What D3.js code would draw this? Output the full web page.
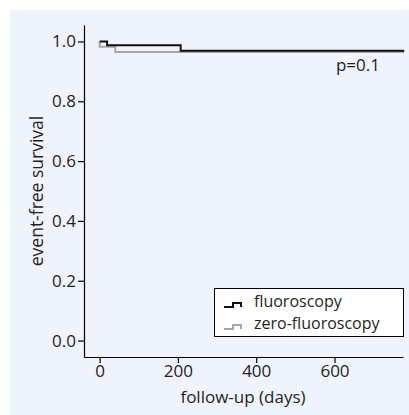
<!DOCTYPE html>
<html lang="en">
  <head>
    <meta charset="utf-8">
    <title>Event-free survival</title>
    <script src="https://cdn.jsdelivr.net/npm/d3@7"></script>
    <style>
      body { margin: 0; background: #fff; }
      text { font-family: 'Open Sans', 'Noto Sans', sans-serif; fill: #231f20; }
    </style>
  </head>
  <body>
    <div id="chart"></div>
    <script type="text/javascript">
      // Kaplan-Meier step curves
      const fluoroDays = [0, 19, 207, 778];
      const fluoroSurv = [1.0, 0.987, 0.969, 0.969];
      const zeroDays = [0, 0, 40, 778];
      const zeroSurv = [1.0, 0.982, 0.965, 0.965];

      const xTicks = [0, 200, 400, 600];
      const yTicks = [0, 0.2, 0.4, 0.6, 0.8, 1.0];
      const seriesNames = ['fluoroscopy', 'zero-fluoroscopy'];
      const seriesColors = ['#111111', '#a6a6a6'];
      const pLabel = 'p=0.1';

      let width = 409, height = 415;
      let svg = d3.select('#chart').append('svg')
        .attr('width', width)
        .attr('height', height)

      svg.append('rect')
        .attr('x', 10).attr('y', 10)
        .attr('width', width - 10).attr('height', height - 10)
        .attr('fill', '#eef3fc')

      let scale_x = d3.scaleLinear()
        .domain([-40, 775])
        .range([84, 403])

      let scale_y = d3.scaleLinear()
        .domain([-0.055, 1.055])
        .range([357, 25])

      let line = d3.line()
        .x((d) => scale_x(d[0]))
        .y((d) => scale_y(d[1]))
        .curve(d3.curveStepAfter)

      let series = [
        d3.zip(zeroDays, zeroSurv),
        d3.zip(fluoroDays, fluoroSurv)
      ]
      let colors = [seriesColors[1], seriesColors[0]]

      svg.selectAll('path.km')
        .data(series)
        .enter()
        .append('path')
        .attr('class', 'km')
        .attr('d', line)
        .attr('fill', 'none')
        .attr('stroke', (d, i) => colors[i])
        .attr('stroke-width', 2)

      // axes
      let x_axis = d3.axisBottom(scale_x)
        .tickValues(xTicks)
        .tickSize(6)
        .tickSizeOuter(0)
        .tickPadding(2)
      svg.append('g')
        .attr('transform', 'translate(0,357)')
        .call(x_axis)

      let y_axis = d3.axisLeft(scale_y)
        .tickValues(yTicks)
        .tickFormat(d3.format('.1f'))
        .tickSize(6)
        .tickSizeOuter(0)
        .tickPadding(2)
      svg.append('g')
        .attr('transform', 'translate(84,0)')
        .call(y_axis)

      svg.selectAll('.tick text')
        .attr('font-size', '17px')
        .attr('font-family', null)
      svg.selectAll('.domain, .tick line')
        .attr('stroke', '#000')
        .attr('stroke-width', 1.2)

      // axis titles
      svg.append('text')
        .attr('x', 243).attr('y', 403)
        .attr('text-anchor', 'middle')
        .attr('font-size', '17px')
        .text('follow-up (days)')

      svg.append('text')
        .attr('transform', 'translate(43,191) rotate(-90)')
        .attr('text-anchor', 'middle')
        .attr('font-size', '17.5px')
        .text('event-free survival')

      svg.append('text')
        .attr('x', 380).attr('y', 71)
        .attr('text-anchor', 'end')
        .attr('font-size', '17px')
        .text(pLabel)

      // legend
      let legend = svg.append('g')
        .attr('transform', 'translate(214,288)')
      legend.append('rect')
        .attr('x', 0.5).attr('y', 0.5)
        .attr('width', 189).attr('height', 48)
        .attr('fill', '#fff')
        .attr('stroke', '#000')

      let items = legend.selectAll('g.item')
        .data(seriesNames)
        .enter()
        .append('g')
        .attr('class', 'item')
        .attr('transform', (d, i) => 'translate(0,' + (13 + i * 22) + ')')

      items.append('path')
        .attr('d', 'M10,6H19V2H27V6')
        .attr('fill', 'none')
        .attr('stroke', (d, i) => seriesColors[i])
        .attr('stroke-width', 2)

      items.append('text')
        .attr('x', 40).attr('y', 0)
        .attr('dy', '0.35em')
        .attr('font-size', '16px')
        .text((d) => d)
    </script>
  </body>
</html>
